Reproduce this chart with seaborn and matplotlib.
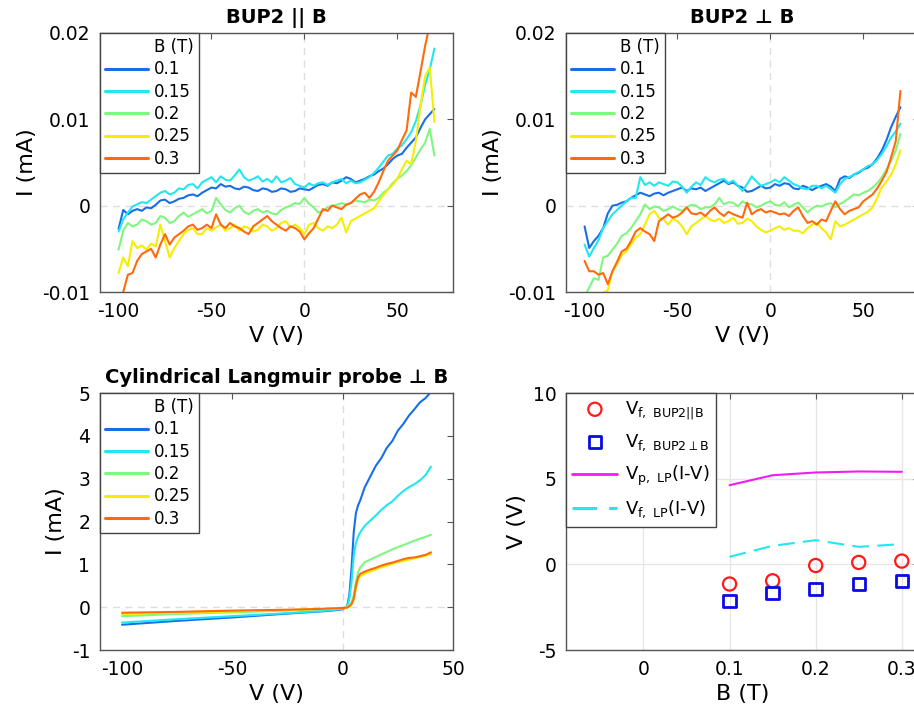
import matplotlib
matplotlib.use("Agg")
import matplotlib.pyplot as plt
import numpy as np
import pandas as pd
import seaborn as sns
from matplotlib.lines import Line2D

# magnetic field values and their line colours (jet-like)
b_fields = ["0.1", "0.15", "0.2", "0.25", "0.3"]
b_colors = ["#176fe8", "#22e6f0", "#7ff77f", "#f5ee00", "#ff6a0d"]

# probe bias grid for the BUP2 sweeps, V
v_bup = np.arange(-100, 70.1, 2.5)

# BUP2 || B, current in 1e-3 mA
bup_par = {
    "0.1": [-2.7, -0.5, -1.0, -0.6, -0.4, -0.6, -0.2, -0.3, 0.1, 0.6, 0.7, 0.3, 0.5, 0.8, 0.9, 1.2, 1.3, 1.1,
            1.5, 1.8, 2.1, 2.0, 2.5, 2.2, 2.3, 2.0, 1.9, 2.2, 2.1, 1.8, 1.7, 2.0, 1.9, 1.6, 1.7, 2.0, 1.9, 1.6,
            1.7, 2.0, 1.9, 1.8, 2.1, 2.4, 2.5, 2.3, 2.7, 2.6, 2.9, 3.3, 3.1, 2.7, 2.9, 3.1, 3.4, 3.6, 4.0, 4.3,
            4.8, 5.4, 5.8, 6.0, 6.7, 7.3, 7.9, 9.0, 10.0, 10.6, 11.2],
    "0.15": [-3.0, -1.6, -0.8, -0.1, 0.15, 0.4, 0.3, 0.7, 1.1, 1.5, 1.7, 1.3, 1.5, 2.0, 1.9, 2.4, 2.5, 2.0,
             2.7, 3.0, 3.3, 2.7, 3.4, 3.0, 2.9, 3.5, 4.2, 3.3, 2.9, 3.1, 3.4, 2.8, 3.1, 2.7, 3.4, 2.7, 2.9, 3.2,
             2.5, 2.3, 2.1, 2.6, 2.3, 2.6, 2.7, 2.4, 2.7, 2.9, 3.1, 2.6, 2.9, 2.6, 2.7, 3.0, 3.3, 3.8, 4.4, 5.1,
             5.8, 6.0, 6.6, 7.0, 7.7, 8.5, 9.8, 11.6, 14.0, 15.8, 18.2],
    "0.2": [-5.1, -2.9, -2.0, -2.4, -2.2, -1.6, -1.8, -2.2, -2.0, -1.2, -1.4, -2.0, -1.8, -1.2, -0.8, -1.3,
            -1.0, -0.7, -0.4, -0.9, -0.6, 0.9, 0.15, -0.5, -0.8, -0.3, 0.0, -0.7, -1.0, -0.6, -0.4, -0.8, -0.6,
            -0.9, -1.0, -0.5, -0.2, 0.0, 0.3, 0.2, 0.9, 0.2, -0.2, -0.8, -0.6, -0.2, 0.0, 0.1, 0.3, 0.1, 0.3,
            0.6, 0.5, 0.4, 0.7, 0.6, 0.9, 1.5, 1.9, 2.6, 3.1, 3.5, 4.0, 4.7, 5.6, 6.5, 7.3, 8.9, 5.8],
    "0.25": [-7.8, -6.0, -7.0, -4.1, -4.9, -4.6, -5.1, -4.4, -4.7, -2.2, -4.1, -6.0, -4.9, -4.1, -3.3, -2.8,
             -2.6, -3.3, -3.3, -2.6, -2.9, -2.5, -2.2, -2.9, -2.6, -2.2, -2.9, -2.4, -2.6, -3.0, -2.8, -2.2,
             -2.4, -2.9, -2.6, -2.0, -1.8, -2.5, -2.2, -2.6, -3.3, -2.2, -2.0, -2.6, -2.9, -2.4, -2.6, -2.2,
             -1.4, -3.1, -1.8, -1.5, -1.2, -0.9, -0.6, -0.3, 0.5, 1.2, 1.9, 2.4, 3.1, 4.2, 5.2, 4.8, 7.5, 11.5,
             15.0, 16.0, 9.7],
    "0.3": [-11.5, -10.0, -8.0, -7.8, -6.4, -5.6, -5.3, -5.0, -6.0, -4.5, -3.3, -4.5, -3.7, -3.3, -2.9, -2.4,
            -2.2, -2.8, -2.6, -2.2, -2.6, -1.0, -2.2, -2.6, -2.0, -2.4, -2.6, -3.0, -3.3, -2.4, -2.0, -1.6, -1.2,
            -1.8, -2.2, -2.6, -2.9, -2.4, -2.6, -3.0, -3.9, -3.2, -2.6, -1.5, -0.4, -0.6, 0.0, -0.2, -0.4, 0.1,
            0.3, 0.8, 1.3, 1.5, 0.9, 1.6, 2.7, 4.0, 5.2, 5.8, 6.4, 7.6, 8.7, 13.1, 12.6, 15.5, 18.5, 21.0, 23.0],
}

# BUP2 perpendicular to B, current in 1e-3 mA
bup_perp = {
    "0.1": [-2.4, -4.9, -4.1, -3.5, -2.6, -0.9, 0.0, 0.1, 0.35, 0.5, 0.9, 1.2, 1.5, 1.3, 1.1, 1.4, 1.5, 1.2,
            1.5, 1.7, 1.9, 2.1, 1.7, 2.0, 1.9, 2.1, 1.7, 2.0, 2.3, 2.6, 2.9, 2.5, 2.7, 2.3, 2.1, 1.6, 1.7, 2.0,
            2.3, 2.0, 2.1, 2.5, 2.3, 2.6, 2.5, 2.0, 1.9, 2.3, 2.1, 1.8, 2.1, 2.3, 2.5, 2.2, 1.7, 3.1, 3.4, 3.2,
            3.6, 3.8, 4.2, 4.4, 4.8, 5.5, 6.4, 7.6, 9.1, 10.3, 11.4],
    "0.15": [-4.5, -5.9, -4.9, -4.0, -2.6, -1.8, -1.0, -0.5, 0.0, 0.5, 0.9, 0.9, 3.3, 2.4, 2.7, 2.3, 2.7, 2.5,
             2.3, 2.8, 2.7, 2.2, 1.5, 2.2, 2.7, 2.4, 3.3, 2.9, 2.7, 3.0, 3.1, 2.6, 2.9, 2.3, 1.7, 2.5, 3.4, 2.8,
             2.3, 2.5, 2.7, 3.0, 2.7, 3.3, 2.9, 2.5, 2.3, 2.0, 1.9, 2.3, 2.3, 2.0, 2.3, 1.9, 1.5, 2.5, 3.1, 3.3,
             3.6, 3.9, 4.2, 4.6, 4.8, 5.3, 6.0, 6.9, 7.9, 8.6, 9.5],
    "0.2": [-10.5, -9.5, -8.4, -8.6, -6.0, -5.8, -5.1, -4.4, -3.5, -3.2, -2.6, -1.8, -1.0, 0.15, -0.4, -0.1,
            -0.2, -0.6, -0.4, -0.1, -0.4, -0.6, -0.2, 0.1, 0.0, -0.4, -0.2, -0.2, 0.15, 0.9, 0.15, 0.4, 0.35,
            -0.1, 0.5, 0.2, 0.15, -0.2, 0.0, 0.3, 0.5, 0.1, 0.0, 0.4, -0.2, 0.1, 0.35, -0.2, -0.8, -0.3, 0.0,
            -0.1, 0.15, 0.3, -0.2, 0.2, 0.5, 0.9, 1.3, 1.2, 1.5, 1.7, 2.1, 2.6, 3.3, 4.2, 5.2, 6.4, 8.3],
    "0.25": [-12.0, -11.5, -11.0, -10.5, -10.1, -9.8, -7.6, -6.8, -5.7, -5.3, -4.5, -3.7, -3.3, -2.2, -1.0,
             -0.6, -1.4, -1.6, -2.2, -1.5, -1.8, -2.4, -3.3, -2.4, -2.0, -1.6, -1.2, -1.6, -1.8, -1.5, -2.0,
             -1.8, -1.4, -2.1, -2.0, -1.5, -1.8, -2.4, -2.8, -3.1, -2.9, -2.6, -2.4, -2.8, -2.6, -2.9, -2.9,
             -3.2, -2.6, -2.2, -2.0, -2.6, -3.1, -3.9, -1.8, -2.4, -2.2, -1.9, -1.6, -1.3, -1.0, -0.7, -0.2, 0.9,
             2.1, 2.8, 3.6, 4.8, 6.4],
    "0.3": [-6.4, -7.6, -7.6, -8.0, -7.8, -9.1, -7.6, -6.5, -5.3, -5.0, -4.1, -3.0, -2.6, -3.0, -3.3, -4.1, -1.8,
            -1.4, -1.0, -1.4, -1.2, -0.8, -0.2, -0.9, -1.0, -0.8, -1.2, -0.6, -0.2, -0.8, -1.2, -0.7, -1.0, -1.2,
            -1.4, 0.35, -1.0, -0.6, -0.4, -0.8, -0.6, -0.8, -1.0, -0.9, -1.2, -0.6, -0.2, -1.2, -2.0, -1.8, -2.2,
            -1.6, -1.8, -0.6, 0.5, -0.4, -1.0, -0.6, -0.4, -0.2, 0.5, 0.9, 1.3, 2.0, 2.9, 3.9, 5.6, 7.5, 13.3],
}

# cylindrical Langmuir probe, V and I (mA)
v_lp = [-100, -75, -50, -25, -10, -5, 0, 2, 3, 4, 5, 6, 7, 8, 10, 12.5, 15, 17.5, 20, 22.5, 25, 27.5,
        30, 32.5, 35, 37.5, 40]
lp_curves = {
    "0.1": [-0.41, -0.32, -0.24, -0.15, -0.10, -0.08, -0.05, 0.02, 0.27, 0.9, 1.75, 2.2, 2.38, 2.5, 2.8, 3.05,
            3.3, 3.48, 3.72, 3.88, 4.12, 4.28, 4.47, 4.62, 4.78, 4.88, 5.02],
    "0.15": [-0.36, -0.28, -0.21, -0.14, -0.09, -0.07, -0.04, 0.02, 0.19, 0.58, 1.2, 1.5, 1.65, 1.75, 1.9, 2.02,
             2.14, 2.27, 2.38, 2.47, 2.6, 2.71, 2.8, 2.87, 2.96, 3.08, 3.28],
    "0.2": [-0.21, -0.16, -0.12, -0.08, -0.05, -0.04, -0.02, 0.0, 0.05, 0.12, 0.27, 0.58, 0.82, 0.93, 1.05, 1.11,
            1.17, 1.23, 1.29, 1.35, 1.4, 1.45, 1.5, 1.55, 1.6, 1.64, 1.69],
    "0.25": [-0.16, -0.13, -0.10, -0.07, -0.04, -0.03, -0.02, -0.01, 0.02, 0.07, 0.17, 0.43, 0.66, 0.72, 0.78,
             0.83, 0.88, 0.93, 0.97, 1.01, 1.05, 1.08, 1.11, 1.14, 1.17, 1.2, 1.24],
    "0.3": [-0.13, -0.11, -0.08, -0.06, -0.04, -0.03, -0.02, -0.01, 0.02, 0.07, 0.2, 0.5, 0.7, 0.78, 0.83, 0.88,
            0.92, 0.97, 1.01, 1.04, 1.08, 1.12, 1.15, 1.16, 1.19, 1.22, 1.28],
}

# floating / plasma potentials vs B
b_vals = [0.1, 0.15, 0.2, 0.25, 0.3]
vf_bup_par = [-1.15, -0.96, -0.07, 0.11, 0.19]
vf_bup_perp = [-2.13, -1.66, -1.43, -1.14, -0.96]
vp_lp = [4.62, 5.2, 5.36, 5.42, 5.4]
vf_lp = [0.44, 1.08, 1.41, 1.02, 1.18]

sns.set_style("white")
plt.rcParams["font.family"] = ["DejaVu Sans"]
plt.rcParams["axes.unicode_minus"] = False
plt.rcParams["mathtext.fontset"] = "dejavusans"
plt.rcParams["text.color"] = "black"
plt.rcParams["axes.labelcolor"] = "black"

fig = plt.figure(figsize=(9.14, 7.13), dpi=100)
W, H = 914, 713


def place(l, t, w, h):
    return fig.add_axes([l / W, 1 - (t + h) / H, w / W, h / H])


def style_axes(ax):
    for s in ax.spines.values():
        s.set_color("#555555")
        s.set_linewidth(1.0)
    ax.tick_params(direction="in", top=True, right=True, length=4, width=0.8,
                   color="#555555", labelcolor="black", labelsize=13.5, pad=7)
    ax.xaxis.label.set_size(16)
    ax.yaxis.label.set_size(16)


def zero_lines(ax):
    ax.axhline(0, color="#dddddd", lw=1.0, ls=(0, (5, 4)), zorder=0)
    ax.axvline(0, color="#dddddd", lw=1.0, ls=(0, (5, 4)), zorder=0)


def iv_legend(ax, fs=12):
    handles = [Line2D([], [], color="none")]
    labels = ["B (T)"]
    for b, c in zip(b_fields, b_colors):
        handles.append(Line2D([], [], color=c, lw=2.2))
        labels.append(b)
    leg = ax.legend(handles, labels, loc="upper left", borderaxespad=0, fancybox=False,
                    framealpha=1, edgecolor="#444444", fontsize=fs, handlelength=2.6,
                    handletextpad=0.35, labelspacing=0.26, borderpad=0.3)
    leg.get_frame().set_linewidth(1.0)


def bup_panel(ax, curves, title):
    df = pd.concat([pd.DataFrame({"V": v_bup, "I": np.array(curves[b]) * 1e-3, "B": b}) for b in b_fields])
    sns.lineplot(data=df, x="V", y="I", hue="B", palette=dict(zip(b_fields, b_colors)),
                 sort=False, estimator=None, lw=1.5, legend=False, ax=ax)
    zero_lines(ax)
    ax.set_xlim(-110, 80)
    ax.set_ylim(-0.01, 0.02)
    ax.set_xticks([-100, -50, 0, 50])
    ax.set_xticklabels(["-100", "-50", "0", "50"])
    ax.set_yticks([-0.01, 0, 0.01, 0.02])
    ax.set_yticklabels(["-0.01", "0", "0.01", "0.02"])
    ax.set_xlabel("V (V)")
    ax.set_ylabel("I (mA)")
    ax.set_title(title, fontsize=14, fontweight="bold", pad=7)
    style_axes(ax)
    iv_legend(ax)


ax1 = place(100, 33, 353, 259)
bup_panel(ax1, bup_par, "BUP2 || B")

ax2 = place(566, 33, 353, 259)
bup_panel(ax2, bup_perp, "BUP2 \u22a5 B")

# Langmuir probe panel
ax3 = place(100, 393, 353, 257)
df_lp = pd.concat([pd.DataFrame({"V": v_lp, "I": lp_curves[b], "B": b}) for b in b_fields])
sns.lineplot(data=df_lp, x="V", y="I", hue="B", palette=dict(zip(b_fields, b_colors)),
             sort=False, estimator=None, lw=1.5, legend=False, ax=ax3)
zero_lines(ax3)
ax3.set_xlim(-110, 50)
ax3.set_ylim(-1, 5)
ax3.set_xticks([-100, -50, 0, 50])
ax3.set_xticklabels(["-100", "-50", "0", "50"])
ax3.set_yticks(range(-1, 6))
ax3.set_yticklabels(["-1", "0", "1", "2", "3", "4", "5"])
ax3.set_xlabel("V (V)")
ax3.set_ylabel("I (mA)")
ax3.set_title("Cylindrical Langmuir probe \u22a5 B", fontsize=14, fontweight="bold", pad=7)
style_axes(ax3)
iv_legend(ax3)

# potentials vs B panel
ax4 = place(566, 393, 353, 257)
ax4.grid(True, color="#e6e6e6", lw=1.0)
ax4.set_axisbelow(True)
sns.scatterplot(x=b_vals, y=vf_bup_par, marker="o", s=90, facecolor="none", edgecolor="#ff1a1a",
                linewidth=1.6, ax=ax4, label=r"V$_{\mathrm{f,\ BUP2||B}}$")
sns.scatterplot(x=b_vals, y=vf_bup_perp, marker="s", s=80, facecolor="none", edgecolor="#0a0ae6",
                linewidth=2.0, ax=ax4, label=r"V$_{\mathrm{f,\ BUP2\perp B}}$")
sns.lineplot(x=b_vals, y=vp_lp, color="#f21cf2", lw=1.5, ax=ax4, label=r"V$_{\mathrm{p,\ LP}}$(I-V)")
sns.lineplot(x=b_vals, y=vf_lp, color="#22e6f0", lw=1.5, dashes=False, ax=ax4,
             label=r"V$_{\mathrm{f,\ LP}}$(I-V)")
ax4.lines[-1].set_dashes((8, 4))
ax4.set_xlim(-0.09, 0.32)
ax4.set_ylim(-5, 10)
ax4.set_xticks([0, 0.1, 0.2, 0.3])
ax4.set_xticklabels(["0", "0.1", "0.2", "0.3"])
ax4.set_yticks([-5, 0, 5, 10])
ax4.set_yticklabels(["-5", "0", "5", "10"])
ax4.set_xlabel("B (T)")
ax4.set_ylabel("V (V)")
style_axes(ax4)
h, l = ax4.get_legend_handles_labels()
h[3] = Line2D([], [], color="#22e6f0", lw=2.2, dashes=(8, 4))
h[2] = Line2D([], [], color="#f21cf2", lw=2.0)
leg = ax4.legend(h, l, loc="upper left", borderaxespad=0, fancybox=False, framealpha=1,
                 edgecolor="#444444", fontsize=13, handlelength=2.5, handletextpad=0.4,
                 labelspacing=0.6, borderpad=0.35)
leg.get_frame().set_linewidth(1.0)

fig.savefig("out.png", dpi=100)
